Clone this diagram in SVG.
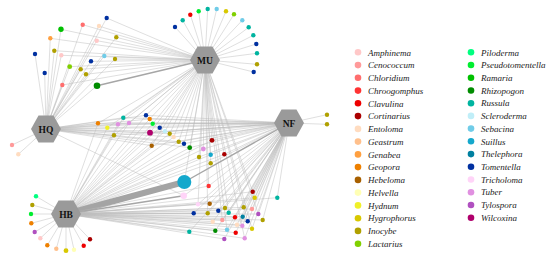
<svg xmlns="http://www.w3.org/2000/svg" width="550" height="261" viewBox="0 0 550 261">
<style>
.e{stroke:#bcbcbc;stroke-width:.6;opacity:.8;fill:none}
.e2{stroke:#a6a6a6;stroke-width:1.4;fill:none}
.e6{stroke:#a4a4a4;stroke-width:6;fill:none}
.hub{fill:#9a9a9a}
.hl{font-family:"Liberation Serif",serif;font-weight:bold;font-size:9.5px;fill:#111;text-anchor:middle}
.lg{font-family:"Liberation Serif",serif;font-style:italic;font-size:9px;fill:#222}
.a{fill:#ffc8c8}.b{fill:#ff9a9a}.c{fill:#ff6e6e}.d{fill:#ff3333}.e0{fill:#ee0000}.f{fill:#aa0000}
.g{fill:#ffdcc0}.h{fill:#ffc08c}.i{fill:#ffa040}.j{fill:#ee8000}.k{fill:#a86000}.l{fill:#ffffb4}
.m{fill:#f0f028}.n{fill:#d8c800}.o{fill:#b0a000}.p{fill:#80d000}.q{fill:#00ff80}.r{fill:#00ee30}
.s{fill:#00c000}.t{fill:#008c00}.u{fill:#00b4a0}.v{fill:#c0eef8}.w{fill:#70cce8}.x{fill:#14a8cc}
.y{fill:#0080a0}.z{fill:#0030a0}.A{fill:#ffd4f8}.B{fill:#e090e0}.C{fill:#b050c0}.D{fill:#b0006c}
</style>
<rect width="550" height="261" fill="#fff"/>
<g id="connectors">
<!-- HQ -->
<line class="e" x1="46" y1="129" x2="106.7" y2="18"/><line class="e" x1="46" y1="129" x2="82.7" y2="24.7"/><line class="e" x1="46" y1="129" x2="99" y2="26"/><line class="e" x1="46" y1="129" x2="61" y2="29.3"/><line class="e" x1="46" y1="129" x2="116.3" y2="37.3"/><line class="e" x1="46" y1="129" x2="50.3" y2="38.3"/><line class="e" x1="46" y1="129" x2="96.7" y2="40.7"/><line class="e" x1="46" y1="129" x2="54.3" y2="50.7"/><line class="e" x1="46" y1="129" x2="35" y2="54"/><line class="e" x1="46" y1="129" x2="61.3" y2="55.3"/><line class="e" x1="46" y1="129" x2="104.3" y2="56"/><line class="e" x1="46" y1="129" x2="115" y2="59"/><line class="e" x1="46" y1="129" x2="91" y2="61.3"/><line class="e" x1="46" y1="129" x2="69.7" y2="66.7"/><line class="e" x1="46" y1="129" x2="80.7" y2="69.3"/><line class="e" x1="46" y1="129" x2="86" y2="74.3"/><line class="e" x1="46" y1="129" x2="44.7" y2="73"/><line class="e" x1="46" y1="129" x2="62.3" y2="85"/><line class="e" x1="46" y1="129" x2="97" y2="85.7"/>
<line class="e" x1="46" y1="129" x2="98" y2="123.3"/><line class="e" x1="46" y1="129" x2="107.3" y2="127.7"/><line class="e" x1="46" y1="129" x2="118" y2="124.3"/><line class="e" x1="46" y1="129" x2="129" y2="123"/><line class="e" x1="46" y1="129" x2="114" y2="135.3"/><line class="e" x1="46" y1="129" x2="123.3" y2="117.7"/><line class="e" x1="46" y1="129" x2="146" y2="115.3"/><line class="e" x1="46" y1="129" x2="149.7" y2="119"/><line class="e" x1="46" y1="129" x2="152.7" y2="123.7"/><line class="e" x1="46" y1="129" x2="159.7" y2="127.7"/><line class="e" x1="46" y1="129" x2="150" y2="132.7"/><line class="e" x1="46" y1="129" x2="165" y2="131.3"/><line class="e" x1="46" y1="129" x2="169.7" y2="133.7"/><line class="e" x1="46" y1="129" x2="173.7" y2="137"/><line class="e" x1="46" y1="129" x2="151.7" y2="145.7"/><line class="e" x1="46" y1="129" x2="178.7" y2="141.7"/><line class="e" x1="46" y1="129" x2="184" y2="143.7"/><line class="e" x1="46" y1="129" x2="189.7" y2="147.7"/><line class="e" x1="46" y1="129" x2="183.7" y2="195.7"/><line class="e" x1="46" y1="129" x2="12" y2="145"/><line class="e" x1="46" y1="129" x2="18.3" y2="154.3"/>
<!-- MU -->
<line class="e" x1="205" y1="60" x2="106.7" y2="18"/><line class="e" x1="205" y1="60" x2="82.7" y2="24.7"/><line class="e" x1="205" y1="60" x2="99" y2="26"/><line class="e" x1="205" y1="60" x2="61" y2="29.3"/><line class="e" x1="205" y1="60" x2="116.3" y2="37.3"/><line class="e" x1="205" y1="60" x2="50.3" y2="38.3"/><line class="e" x1="205" y1="60" x2="96.7" y2="40.7"/><line class="e" x1="205" y1="60" x2="54.3" y2="50.7"/><line class="e" x1="205" y1="60" x2="61.3" y2="55.3"/><line class="e" x1="205" y1="60" x2="104.3" y2="56"/><line class="e" x1="205" y1="60" x2="115" y2="59"/><line class="e" x1="205" y1="60" x2="91" y2="61.3"/><line class="e" x1="205" y1="60" x2="69.7" y2="66.7"/><line class="e" x1="205" y1="60" x2="80.7" y2="69.3"/><line class="e" x1="205" y1="60" x2="86" y2="74.3"/><line class="e" x1="205" y1="60" x2="62.3" y2="85"/><line class="e2" x1="205" y1="60" x2="97" y2="85.7"/>
<line class="e" x1="205" y1="60" x2="175" y2="27"/><line class="e" x1="205" y1="60" x2="182.7" y2="20.3"/><line class="e" x1="205" y1="60" x2="190.3" y2="14.7"/><line class="e" x1="205" y1="60" x2="198.7" y2="11.3"/><line class="e" x1="205" y1="60" x2="207.7" y2="9"/><line class="e" x1="205" y1="60" x2="216.7" y2="9"/><line class="e" x1="205" y1="60" x2="226" y2="11.3"/><line class="e" x1="205" y1="60" x2="234" y2="14.3"/><line class="e" x1="205" y1="60" x2="242.3" y2="20.3"/><line class="e" x1="205" y1="60" x2="248.7" y2="27.3"/><line class="e" x1="205" y1="60" x2="253.3" y2="35.3"/><line class="e" x1="205" y1="60" x2="256.3" y2="44"/><line class="e" x1="205" y1="60" x2="257" y2="53.3"/><line class="e" x1="205" y1="60" x2="257" y2="64.3"/><line class="e" x1="205" y1="60" x2="253.7" y2="72"/>
<line class="e" x1="205" y1="60" x2="98" y2="123.3"/><line class="e" x1="205" y1="60" x2="107.3" y2="127.7"/><line class="e" x1="205" y1="60" x2="118" y2="124.3"/><line class="e" x1="205" y1="60" x2="129" y2="123"/><line class="e" x1="205" y1="60" x2="114" y2="135.3"/><line class="e" x1="205" y1="60" x2="123.3" y2="117.7"/><line class="e" x1="205" y1="60" x2="146" y2="115.3"/><line class="e" x1="205" y1="60" x2="149.7" y2="119"/><line class="e" x1="205" y1="60" x2="152.7" y2="123.7"/><line class="e" x1="205" y1="60" x2="159.7" y2="127.7"/><line class="e" x1="205" y1="60" x2="150" y2="132.7"/><line class="e" x1="205" y1="60" x2="165" y2="131.3"/><line class="e" x1="205" y1="60" x2="169.7" y2="133.7"/><line class="e" x1="205" y1="60" x2="173.7" y2="137"/><line class="e" x1="205" y1="60" x2="151.7" y2="145.7"/><line class="e" x1="205" y1="60" x2="178.7" y2="141.7"/><line class="e" x1="205" y1="60" x2="184" y2="143.7"/><line class="e" x1="205" y1="60" x2="189.7" y2="147.7"/><line class="e" x1="205" y1="60" x2="212" y2="140.3"/><line class="e" x1="205" y1="60" x2="203.3" y2="149"/><line class="e" x1="205" y1="60" x2="210.7" y2="154.7"/><line class="e" x1="205" y1="60" x2="224.3" y2="154.3"/><line class="e" x1="205" y1="60" x2="199" y2="157"/><line class="e" x1="205" y1="60" x2="210.7" y2="163.3"/><line class="e" x1="205" y1="60" x2="184.3" y2="182"/><line class="e" x1="205" y1="60" x2="208.7" y2="186"/>
<line class="e" x1="205" y1="60" x2="252.7" y2="191.7"/><line class="e" x1="205" y1="60" x2="198" y2="204.3"/><line class="e" x1="205" y1="60" x2="207.7" y2="213.3"/><line class="e" x1="205" y1="60" x2="228.7" y2="212.7"/><line class="e" x1="205" y1="60" x2="258.3" y2="214"/><line class="e" x1="205" y1="60" x2="247.7" y2="221.3"/><line class="e" x1="205" y1="60" x2="222.3" y2="220"/><line class="e" x1="205" y1="60" x2="252" y2="228.7"/><line class="e" x1="205" y1="60" x2="227" y2="229.7"/><line class="e" x1="205" y1="60" x2="244.7" y2="238.3"/>
<!-- NF -->
<line class="e" x1="289" y1="123" x2="98" y2="123.3"/><line class="e" x1="289" y1="123" x2="107.3" y2="127.7"/><line class="e" x1="289" y1="123" x2="118" y2="124.3"/><line class="e" x1="289" y1="123" x2="129" y2="123"/><line class="e" x1="289" y1="123" x2="114" y2="135.3"/><line class="e" x1="289" y1="123" x2="123.3" y2="117.7"/><line class="e" x1="289" y1="123" x2="146" y2="115.3"/><line class="e" x1="289" y1="123" x2="149.7" y2="119"/><line class="e" x1="289" y1="123" x2="152.7" y2="123.7"/><line class="e" x1="289" y1="123" x2="159.7" y2="127.7"/><line class="e" x1="289" y1="123" x2="150" y2="132.7"/><line class="e" x1="289" y1="123" x2="165" y2="131.3"/><line class="e" x1="289" y1="123" x2="169.7" y2="133.7"/><line class="e" x1="289" y1="123" x2="173.7" y2="137"/><line class="e" x1="289" y1="123" x2="151.7" y2="145.7"/><line class="e" x1="289" y1="123" x2="178.7" y2="141.7"/><line class="e" x1="289" y1="123" x2="184" y2="143.7"/><line class="e" x1="289" y1="123" x2="189.7" y2="147.7"/><line class="e" x1="289" y1="123" x2="212" y2="140.3"/><line class="e" x1="289" y1="123" x2="203.3" y2="149"/><line class="e" x1="289" y1="123" x2="210.7" y2="154.7"/><line class="e" x1="289" y1="123" x2="224.3" y2="154.3"/><line class="e" x1="289" y1="123" x2="199" y2="157"/><line class="e" x1="289" y1="123" x2="210.7" y2="163.3"/><line class="e2" x1="289" y1="123" x2="184.3" y2="182"/><line class="e" x1="289" y1="123" x2="208.7" y2="186"/><line class="e" x1="289" y1="123" x2="183.7" y2="195.7"/>
<line class="e" x1="289" y1="123" x2="252.7" y2="191.7"/><line class="e" x1="289" y1="123" x2="254.7" y2="197.7"/><line class="e" x1="289" y1="123" x2="277.3" y2="197.7"/><line class="e" x1="289" y1="123" x2="198" y2="204.3"/><line class="e" x1="289" y1="123" x2="209.7" y2="203.7"/><line class="e" x1="289" y1="123" x2="193.7" y2="213.3"/><line class="e" x1="289" y1="123" x2="207.7" y2="213.3"/><line class="e" x1="289" y1="123" x2="218.3" y2="210.7"/><line class="e" x1="289" y1="123" x2="225" y2="208"/><line class="e" x1="289" y1="123" x2="228.7" y2="212.7"/><line class="e" x1="289" y1="123" x2="243.7" y2="207.3"/><line class="e" x1="289" y1="123" x2="252" y2="209"/><line class="e" x1="289" y1="123" x2="258.3" y2="214"/><line class="e" x1="289" y1="123" x2="235" y2="217.3"/><line class="e" x1="289" y1="123" x2="242.7" y2="216.7"/><line class="e" x1="289" y1="123" x2="247.7" y2="221.3"/><line class="e" x1="289" y1="123" x2="262.7" y2="220"/><line class="e" x1="289" y1="123" x2="212.7" y2="221.7"/><line class="e" x1="289" y1="123" x2="222.3" y2="220"/><line class="e" x1="289" y1="123" x2="237" y2="224.7"/><line class="e" x1="289" y1="123" x2="242.3" y2="225.7"/><line class="e" x1="289" y1="123" x2="252" y2="228.7"/><line class="e" x1="289" y1="123" x2="189.3" y2="231.7"/><line class="e" x1="289" y1="123" x2="215.3" y2="230.7"/><line class="e" x1="289" y1="123" x2="227" y2="229.7"/><line class="e" x1="289" y1="123" x2="235.7" y2="232.7"/><line class="e" x1="289" y1="123" x2="224.3" y2="239"/><line class="e" x1="289" y1="123" x2="244.7" y2="238.3"/>
<line class="e" x1="289" y1="123" x2="327" y2="114.7"/><line class="e" x1="289" y1="123" x2="327" y2="124.3"/>
<!-- HB -->
<line class="e" x1="66" y1="214" x2="98" y2="123.3"/><line class="e" x1="66" y1="214" x2="107.3" y2="127.7"/><line class="e" x1="66" y1="214" x2="118" y2="124.3"/><line class="e" x1="66" y1="214" x2="129" y2="123"/><line class="e" x1="66" y1="214" x2="114" y2="135.3"/><line class="e" x1="66" y1="214" x2="123.3" y2="117.7"/><line class="e" x1="66" y1="214" x2="146" y2="115.3"/><line class="e" x1="66" y1="214" x2="149.7" y2="119"/><line class="e" x1="66" y1="214" x2="152.7" y2="123.7"/><line class="e" x1="66" y1="214" x2="159.7" y2="127.7"/><line class="e" x1="66" y1="214" x2="150" y2="132.7"/><line class="e" x1="66" y1="214" x2="165" y2="131.3"/><line class="e" x1="66" y1="214" x2="169.7" y2="133.7"/><line class="e" x1="66" y1="214" x2="173.7" y2="137"/><line class="e" x1="66" y1="214" x2="151.7" y2="145.7"/><line class="e" x1="66" y1="214" x2="178.7" y2="141.7"/><line class="e" x1="66" y1="214" x2="184" y2="143.7"/><line class="e" x1="66" y1="214" x2="189.7" y2="147.7"/><line class="e" x1="66" y1="214" x2="212" y2="140.3"/><line class="e" x1="66" y1="214" x2="203.3" y2="149"/><line class="e" x1="66" y1="214" x2="210.7" y2="154.7"/><line class="e" x1="66" y1="214" x2="224.3" y2="154.3"/><line class="e" x1="66" y1="214" x2="199" y2="157"/><line class="e" x1="66" y1="214" x2="210.7" y2="163.3"/><line class="e6" x1="66" y1="214" x2="184.3" y2="182"/><line class="e" x1="66" y1="214" x2="208.7" y2="186"/><line class="e2" x1="66" y1="214" x2="183.7" y2="195.7"/>
<line class="e" x1="66" y1="214" x2="252.7" y2="191.7"/><line class="e" x1="66" y1="214" x2="254.7" y2="197.7"/><line class="e" x1="66" y1="214" x2="277.3" y2="197.7"/><line class="e" x1="66" y1="214" x2="198" y2="204.3"/><line class="e" x1="66" y1="214" x2="209.7" y2="203.7"/><line class="e" x1="66" y1="214" x2="193.7" y2="213.3"/><line class="e" x1="66" y1="214" x2="207.7" y2="213.3"/><line class="e" x1="66" y1="214" x2="218.3" y2="210.7"/><line class="e" x1="66" y1="214" x2="225" y2="208"/><line class="e" x1="66" y1="214" x2="228.7" y2="212.7"/><line class="e" x1="66" y1="214" x2="243.7" y2="207.3"/><line class="e" x1="66" y1="214" x2="252" y2="209"/><line class="e" x1="66" y1="214" x2="258.3" y2="214"/><line class="e" x1="66" y1="214" x2="235" y2="217.3"/><line class="e" x1="66" y1="214" x2="242.7" y2="216.7"/><line class="e" x1="66" y1="214" x2="247.7" y2="221.3"/><line class="e" x1="66" y1="214" x2="262.7" y2="220"/><line class="e" x1="66" y1="214" x2="212.7" y2="221.7"/><line class="e" x1="66" y1="214" x2="222.3" y2="220"/><line class="e" x1="66" y1="214" x2="237" y2="224.7"/><line class="e" x1="66" y1="214" x2="242.3" y2="225.7"/><line class="e" x1="66" y1="214" x2="252" y2="228.7"/><line class="e" x1="66" y1="214" x2="189.3" y2="231.7"/><line class="e" x1="66" y1="214" x2="215.3" y2="230.7"/><line class="e" x1="66" y1="214" x2="227" y2="229.7"/><line class="e" x1="66" y1="214" x2="235.7" y2="232.7"/><line class="e" x1="66" y1="214" x2="224.3" y2="239"/><line class="e" x1="66" y1="214" x2="244.7" y2="238.3"/>
<line class="e" x1="66" y1="214" x2="36" y2="196.3"/><line class="e" x1="66" y1="214" x2="32.3" y2="205"/><line class="e" x1="66" y1="214" x2="31" y2="214"/><line class="e" x1="66" y1="214" x2="31.3" y2="223.3"/><line class="e" x1="66" y1="214" x2="34.7" y2="232"/><line class="e" x1="66" y1="214" x2="40.3" y2="238.3"/><line class="e" x1="66" y1="214" x2="47.3" y2="245.3"/><line class="e" x1="66" y1="214" x2="56.3" y2="248.7"/><line class="e" x1="66" y1="214" x2="66" y2="250.7"/><line class="e" x1="66" y1="214" x2="74" y2="249.7"/><line class="e" x1="66" y1="214" x2="83.7" y2="245.7"/><line class="e" x1="66" y1="214" x2="90" y2="239.3"/>
</g>
<g id="otu-nodes">
<g id="t1"><circle class="z" cx="106.7" cy="18" r="2.2"/></g>
<g id="t2"><circle class="c" cx="82.7" cy="24.7" r="2.2"/></g>
<g id="t3"><circle class="g" cx="99" cy="26" r="2.2"/></g>
<g id="t4"><circle class="s" cx="61" cy="29.3" r="2.7"/></g>
<g id="t5"><circle class="o" cx="116.3" cy="37.3" r="2.2"/></g>
<g id="t6"><circle class="i" cx="50.3" cy="38.3" r="2.2"/></g>
<g id="t7"><circle class="a" cx="96.7" cy="40.7" r="2.2"/></g>
<g id="t8"><circle class="o" cx="54.3" cy="50.7" r="2.2"/></g>
<g id="t9"><circle class="z" cx="35" cy="54" r="2.2"/></g>
<g id="t10"><circle class="a" cx="61.3" cy="55.3" r="2.2"/></g>
<g id="t11"><circle class="w" cx="104.3" cy="56" r="2.2"/></g>
<g id="t12"><circle class="o" cx="115" cy="59" r="2.2"/></g>
<g id="t13"><circle class="z" cx="91" cy="61.3" r="2.2"/></g>
<g id="t14"><circle class="p" cx="69.7" cy="66.7" r="2.4"/></g>
<g id="t15"><circle class="o" cx="80.7" cy="69.3" r="2.2"/></g>
<g id="t16"><circle class="o" cx="86" cy="74.3" r="2.2"/></g>
<g id="t17"><circle class="z" cx="44.7" cy="73" r="2.2"/></g>
<g id="t18"><circle class="c" cx="62.3" cy="85" r="2.2"/></g>
<g id="t19"><circle class="t" cx="97" cy="85.7" r="3.3"/></g>
<g id="a1"><circle class="z" cx="175" cy="27" r="2.2"/></g>
<g id="a2"><circle class="u" cx="182.7" cy="20.3" r="2.2"/></g>
<g id="a3"><circle class="e0" cx="190.3" cy="14.7" r="2.2"/></g>
<g id="a4"><circle class="r" cx="198.7" cy="11.3" r="2.2"/></g>
<g id="a5"><circle class="u" cx="207.7" cy="9" r="2.2"/></g>
<g id="a6"><circle class="w" cx="216.7" cy="9" r="2.2"/></g>
<g id="a7"><circle class="n" cx="226" cy="11.3" r="2.2"/></g>
<g id="a8"><circle class="p" cx="234" cy="14.3" r="2.2"/></g>
<g id="a9"><circle class="w" cx="242.3" cy="20.3" r="2.2"/></g>
<g id="a10"><circle class="u" cx="248.7" cy="27.3" r="2.2"/></g>
<g id="a11"><circle class="u" cx="253.3" cy="35.3" r="2.2"/></g>
<g id="a12"><circle class="z" cx="256.3" cy="44" r="2.2"/></g>
<g id="a13"><circle class="u" cx="257" cy="53.3" r="2.2"/></g>
<g id="a14"><circle class="o" cx="257" cy="64.3" r="2.2"/></g>
<g id="a15"><circle class="z" cx="253.7" cy="72" r="2.2"/></g>
<g id="m1"><circle class="j" cx="98" cy="123.3" r="2.2"/></g>
<g id="m2"><circle class="m" cx="107.3" cy="127.7" r="2.2"/></g>
<g id="m3"><circle class="B" cx="118" cy="124.3" r="2.2"/></g>
<g id="m4"><circle class="B" cx="129" cy="123" r="2.2"/></g>
<g id="m5"><circle class="o" cx="114" cy="135.3" r="2.2"/></g>
<g id="m6"><circle class="u" cx="123.3" cy="117.7" r="2.2"/></g>
<g id="m7"><circle class="z" cx="146" cy="115.3" r="2.2"/></g>
<g id="m8"><circle class="j" cx="149.7" cy="119" r="2.2"/></g>
<g id="m9"><circle class="r" cx="152.7" cy="123.7" r="2.2"/></g>
<g id="m10"><circle class="z" cx="159.7" cy="127.7" r="2.2"/></g>
<g id="m11"><circle class="D" cx="150" cy="132.7" r="2.9"/></g>
<g id="m12"><circle class="v" cx="165" cy="131.3" r="2.2"/></g>
<g id="m13"><circle class="o" cx="169.7" cy="133.7" r="2.2"/></g>
<g id="m14"><circle class="g" cx="173.7" cy="137" r="2.2"/></g>
<g id="m15"><circle class="k" cx="151.7" cy="145.7" r="2.2"/></g>
<g id="m16"><circle class="o" cx="178.7" cy="141.7" r="2.2"/></g>
<g id="m17"><circle class="z" cx="184" cy="143.7" r="2.2"/></g>
<g id="m18"><circle class="t" cx="189.7" cy="147.7" r="2.4"/></g>
<g id="m19"><circle class="f" cx="212" cy="140.3" r="2.4"/></g>
<g id="m20"><circle class="B" cx="203.3" cy="149" r="2.4"/></g>
<g id="m21"><circle class="x" cx="210.7" cy="154.7" r="2.2"/></g>
<g id="m22"><circle class="f" cx="224.3" cy="154.3" r="2.2"/></g>
<g id="m23"><circle class="o" cx="199" cy="157" r="2.2"/></g>
<g id="m24"><circle class="o" cx="210.7" cy="163.3" r="2.2"/></g>
<g id="m25"><circle class="x" cx="184.3" cy="182" r="7"/></g>
<g id="m26"><circle class="d" cx="208.7" cy="186" r="2.2"/></g>
<g id="m27"><circle class="A" cx="183.7" cy="195.7" r="3.3"/></g>
<g id="b1"><circle class="f" cx="252.7" cy="191.7" r="2.2"/></g>
<g id="b2"><circle class="n" cx="254.7" cy="197.7" r="2.2"/></g>
<g id="b3"><circle class="u" cx="277.3" cy="197.7" r="2.2"/></g>
<g id="b4"><circle class="A" cx="198" cy="204.3" r="2.2"/></g>
<g id="b5"><circle class="k" cx="209.7" cy="203.7" r="2.2"/></g>
<g id="b6"><circle class="z" cx="193.7" cy="213.3" r="2.2"/></g>
<g id="b7"><circle class="o" cx="207.7" cy="213.3" r="2.2"/></g>
<g id="b8"><circle class="z" cx="218.3" cy="210.7" r="2.2"/></g>
<g id="b9"><circle class="o" cx="225" cy="208" r="2.2"/></g>
<g id="b10"><circle class="u" cx="228.7" cy="212.7" r="2.2"/></g>
<g id="b11"><circle class="o" cx="243.7" cy="207.3" r="2.2"/></g>
<g id="b12"><circle class="b" cx="252" cy="209" r="2.2"/></g>
<g id="b13"><circle class="C" cx="258.3" cy="214" r="2.2"/></g>
<g id="b14"><circle class="e0" cx="235" cy="217.3" r="2.2"/></g>
<g id="b15"><circle class="y" cx="242.7" cy="216.7" r="2.2"/></g>
<g id="b16"><circle class="z" cx="247.7" cy="221.3" r="2.2"/></g>
<g id="b17"><circle class="o" cx="262.7" cy="220" r="2.2"/></g>
<g id="b18"><circle class="g" cx="212.7" cy="221.7" r="2.2"/></g>
<g id="b19"><circle class="b" cx="222.3" cy="220" r="2.2"/></g>
<g id="b20"><circle class="g" cx="237" cy="224.7" r="2.2"/></g>
<g id="b21"><circle class="B" cx="242.3" cy="225.7" r="2.2"/></g>
<g id="b22"><circle class="n" cx="252" cy="228.7" r="2.2"/></g>
<g id="b23"><circle class="u" cx="189.3" cy="231.7" r="2.2"/></g>
<g id="b24"><circle class="t" cx="215.3" cy="230.7" r="2.2"/></g>
<g id="b25"><circle class="w" cx="227" cy="229.7" r="2.2"/></g>
<g id="b26"><circle class="e0" cx="235.7" cy="232.7" r="2.2"/></g>
<g id="b27"><circle class="C" cx="224.3" cy="239" r="2.2"/></g>
<g id="b28"><circle class="B" cx="244.7" cy="238.3" r="2.2"/></g>
<g id="h1"><circle class="q" cx="36" cy="196.3" r="2.2"/></g>
<g id="h2"><circle class="o" cx="32.3" cy="205" r="2.2"/></g>
<g id="h3"><circle class="r" cx="31" cy="214" r="2.2"/></g>
<g id="h4"><circle class="j" cx="31.3" cy="223.3" r="2.2"/></g>
<g id="h5"><circle class="C" cx="34.7" cy="232" r="2.2"/></g>
<g id="h6"><circle class="a" cx="40.3" cy="238.3" r="2.2"/></g>
<g id="h7"><circle class="j" cx="47.3" cy="245.3" r="2.2"/></g>
<g id="h8"><circle class="h" cx="56.3" cy="248.7" r="2.2"/></g>
<g id="h9"><circle class="n" cx="66" cy="250.7" r="2.4"/></g>
<g id="h10"><circle class="l" cx="74" cy="249.7" r="2.2"/></g>
<g id="h11"><circle class="e0" cx="83.7" cy="245.7" r="2.2"/></g>
<g id="h12"><circle class="f" cx="90" cy="239.3" r="2.2"/></g>
<g id="q1"><circle class="b" cx="12" cy="145" r="2.2"/></g>
<g id="q2"><circle class="g" cx="18.3" cy="154.3" r="2.2"/></g>
<g id="n1"><circle class="o" cx="327" cy="114.7" r="2.2"/></g>
<g id="n2"><circle class="o" cx="327" cy="124.3" r="2.2"/></g>
</g>
<g id="HQ"><polygon class="hub" points="31,129 38.5,115.5 53.5,115.5 61,129 53.5,142.5 38.5,142.5"/><text class="hl" x="46" y="132.5">HQ</text></g>
<g id="MU"><polygon class="hub" points="190,60 197.5,46.5 212.5,46.5 220,60 212.5,73.5 197.5,73.5"/><text class="hl" x="205" y="63.5">MU</text></g>
<g id="NF"><polygon class="hub" points="274,123 281.5,109.5 296.5,109.5 304,123 296.5,136.5 281.5,136.5"/><text class="hl" x="289" y="126.5">NF</text></g>
<g id="HB"><polygon class="hub" points="51,214 58.5,200.5 73.5,200.5 81,214 73.5,227.5 58.5,227.5"/><text class="hl" x="66" y="217.5">HB</text></g>
<g id="legend">
<circle class="a" cx="358" cy="52.3" r="3.3"/><text class="lg" x="368" y="55.5">Amphinema</text>
<circle class="b" cx="358" cy="65.1" r="3.3"/><text class="lg" x="368" y="68.3">Cenococcum</text>
<circle class="c" cx="358" cy="77.8" r="3.3"/><text class="lg" x="368" y="81">Chloridium</text>
<circle class="d" cx="358" cy="90.6" r="3.3"/><text class="lg" x="368" y="93.8">Chroogomphus</text>
<circle class="e0" cx="358" cy="103.3" r="3.3"/><text class="lg" x="368" y="106.5">Clavulina</text>
<circle class="f" cx="358" cy="116.1" r="3.3"/><text class="lg" x="368" y="119.3">Cortinarius</text>
<circle class="g" cx="358" cy="128.9" r="3.3"/><text class="lg" x="368" y="132.1">Entoloma</text>
<circle class="h" cx="358" cy="141.6" r="3.3"/><text class="lg" x="368" y="144.8">Geastrum</text>
<circle class="i" cx="358" cy="154.4" r="3.3"/><text class="lg" x="368" y="157.6">Genabea</text>
<circle class="j" cx="358" cy="167.1" r="3.3"/><text class="lg" x="368" y="170.3">Geopora</text>
<circle class="k" cx="358" cy="179.9" r="3.3"/><text class="lg" x="368" y="183.1">Hebeloma</text>
<circle class="l" cx="358" cy="192.6" r="3.3"/><text class="lg" x="368" y="195.8">Helvella</text>
<circle class="m" cx="358" cy="205.4" r="3.3"/><text class="lg" x="368" y="208.6">Hydnum</text>
<circle class="n" cx="358" cy="218.2" r="3.3"/><text class="lg" x="368" y="221.4">Hygrophorus</text>
<circle class="o" cx="358" cy="230.9" r="3.3"/><text class="lg" x="368" y="234.1">Inocybe</text>
<circle class="p" cx="358" cy="243.7" r="3.3"/><text class="lg" x="368" y="246.9">Lactarius</text>
<circle class="q" cx="471" cy="52.3" r="3.3"/><text class="lg" x="481" y="55.5">Piloderma</text>
<circle class="r" cx="471" cy="65" r="3.3"/><text class="lg" x="481" y="68.2">Pseudotomentella</text>
<circle class="s" cx="471" cy="77.7" r="3.3"/><text class="lg" x="481" y="80.9">Ramaria</text>
<circle class="t" cx="471" cy="90.5" r="3.3"/><text class="lg" x="481" y="93.7">Rhizopogon</text>
<circle class="u" cx="471" cy="103.2" r="3.3"/><text class="lg" x="481" y="106.4">Russula</text>
<circle class="v" cx="471" cy="115.9" r="3.3"/><text class="lg" x="481" y="119.1">Scleroderma</text>
<circle class="w" cx="471" cy="128.6" r="3.3"/><text class="lg" x="481" y="131.8">Sebacina</text>
<circle class="x" cx="471" cy="141.3" r="3.3"/><text class="lg" x="481" y="144.5">Suillus</text>
<circle class="y" cx="471" cy="154.1" r="3.3"/><text class="lg" x="481" y="157.3">Thelephora</text>
<circle class="z" cx="471" cy="166.8" r="3.3"/><text class="lg" x="481" y="170">Tomentella</text>
<circle class="A" cx="471" cy="179.5" r="3.3"/><text class="lg" x="481" y="182.7">Tricholoma</text>
<circle class="B" cx="471" cy="192.2" r="3.3"/><text class="lg" x="481" y="195.4">Tuber</text>
<circle class="C" cx="471" cy="205" r="3.3"/><text class="lg" x="481" y="208.2">Tylospora</text>
<circle class="D" cx="471" cy="217.7" r="3.3"/><text class="lg" x="481" y="220.9">Wilcoxina</text>
</g>
</svg>
